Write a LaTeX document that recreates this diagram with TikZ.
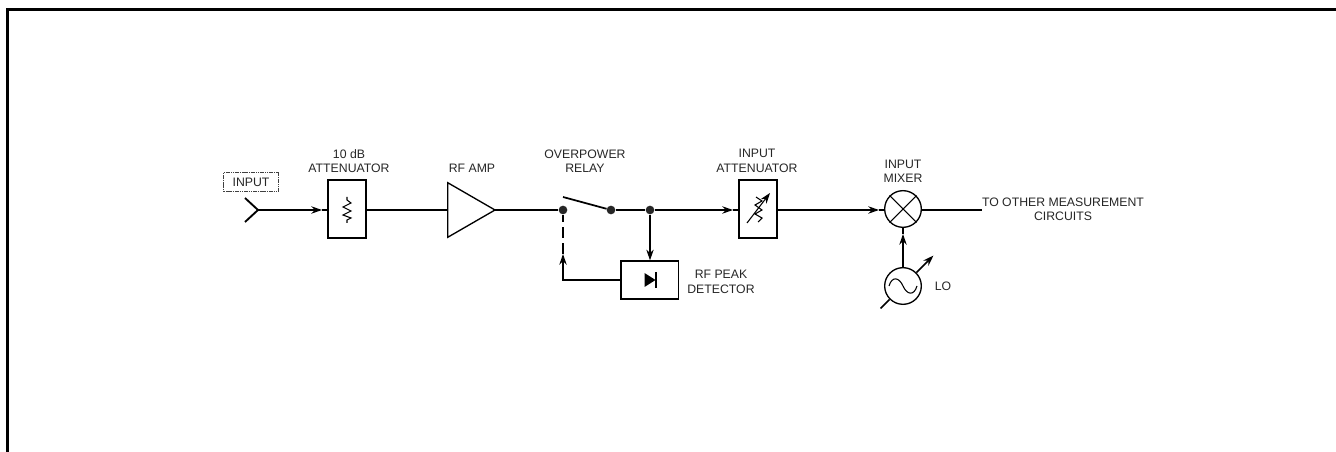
\documentclass[tikz,border=0pt]{standalone}
\usepackage{fontspec}
\setmainfont{Liberation Sans}
\usepackage{tikz}
\usetikzlibrary{calc,arrows.meta,shapes.geometric}

\begin{document}
\begin{tikzpicture}[
  x=0.75pt, y=-0.75pt,
  >={Stealth[length=8pt,width=5.5pt]},
  sig/.style={line width=2.2pt},
  feed/.style={line width=1.1pt},
  blockbox/.style={draw, line width=1pt, inner sep=0pt, minimum width=28.5pt, minimum height=43.5pt},
  jct/.style={circle, fill=black!85, inner sep=0pt, minimum size=6.5pt},
  roundel/.style={circle, draw, line width=1pt, inner sep=0pt, minimum size=27.5pt},
  sym/.style={line width=0.8pt},
  lab/.style={font=\fontsize{9.2pt}{10.8pt}\selectfont, align=center, text=black!85, inner sep=0pt},
]
\useasboundingbox (0,0) rectangle (1336,452);

% ------------------------------------------------------------------
% outer frame
% ------------------------------------------------------------------
\draw[line width=2.2pt] (7.5,452) -- (7.5,9.5) -- (1336,9.5);

% ------------------------------------------------------------------
% blocks and junctions
% ------------------------------------------------------------------
\node[draw=black!75, line width=1pt, dash pattern=on 1.2pt off 0.5pt, lab,
      minimum width=41pt, minimum height=14.5pt] (inputtag) at (251,182) {INPUT};
\coordinate (inputjoin) at (258,210);
\coordinate (inputup)   at (245,198);
\coordinate (inputdown) at (245,222);

\node[blockbox] (fixedatten) at (347,209) {};
\node[draw, isosceles triangle, isosceles triangle stretches, line width=1pt, inner sep=0pt,
      minimum width=41pt, minimum height=35.5pt, anchor=lower side] (rfamp) at (447,210) {};
\node[jct] (relayin)  at (563,210) {};
\node[jct] (relayout) at (611,210) {};
\node[jct] (tap)      at (650,210) {};
\coordinate (relayarm) at (563,197);
\node[blockbox] (varatten) at (758,209) {};
\node[roundel] (mixer) at (903,209) {};
\node[roundel] (lo)    at (903,286) {};
\node[blockbox, minimum width=43pt, minimum height=28.5pt] (peakdet) at (649.5,280) {};
\coordinate (outend) at (982,210);

% ------------------------------------------------------------------
% signal path
% ------------------------------------------------------------------
\draw[feed, line width=1.4pt] (inputup) -- (inputjoin) -- (inputdown);
\coordinate (arrowa) at (322,210);
\coordinate (arrowb) at (733,210);
\coordinate (arrowc) at (879,210);
\draw[sig, ->] (inputjoin) -- (arrowa);
\draw[feed] (arrowa) -- (fixedatten.west |- arrowa);
\draw[sig] (fixedatten.east |- rfamp.lower side) -- (rfamp.lower side);
\draw[sig] ($(rfamp.apex)+(-3,0)$) -- (relayin);
\draw[sig, line width=1.3pt] (relayarm) -- (relayout);
\draw[sig] (relayout) -- (tap);
\draw[sig, ->] (tap) -- (arrowb);
\draw[feed] (arrowb) -- (varatten.west |- arrowb);
\draw[sig, ->] (varatten.east |- arrowc) -- (arrowc);
\draw[feed] (arrowc) -- (mixer.west |- arrowc);
\draw[sig] (mixer.east |- outend) -- (outend);

% peak detector loop
\coordinate (dashend) at (563,254);
\draw[feed, ->] (tap) -- (tap |- peakdet.north);
\draw[feed, ->] (peakdet.west) -| (dashend);
\draw[feed, dashed, dash pattern=on 8pt off 4pt] (dashend) -- (relayin);

% local oscillator
\coordinate (loarrow) at (903,234);
\draw[feed, ->] (lo) -- (loarrow);
\draw[feed] (loarrow) -- (mixer);
\draw[feed, ->] (lo.45) -- ++(17,-17);
\draw[feed] (lo.225) -- ++(-9,9);

% ------------------------------------------------------------------
% symbols inside the blocks
% ------------------------------------------------------------------
\draw[sym] (347,197) -- (347,200) -- (351,203) -- (343,207) -- (351,211) -- (343,215)
   -- (351,218) -- (347,220) -- (347,223);
\draw[sym, ->] (747,223) -- (770,193);
\draw[sym] (756,197) -- (762,201) -- (755,205) -- (762,210) -- (755,214) -- (762,218) -- (758,222);
\fill (peakdet.center) ++(-5,-7) -- ++(0,14) -- ++(11,-7) -- cycle;
\draw[feed] (peakdet.center) ++(6.5,-8) -- ++(0,16);
\draw[sym] (mixer.45) -- (mixer.225);
\draw[sym] (mixer.135) -- (mixer.315);
\draw[sym] (889,286) .. controls (892,276) and (899,277) .. (903,286)
   .. controls (907,295) and (914,296) .. (917,286);

% ------------------------------------------------------------------
% labels
% ------------------------------------------------------------------
\node[lab] (fixedlab)  at (349,161) {10 dB\\ATTENUATOR};
\node[lab] (amplab)    at (472,168) {RF AMP};
\node[lab] (relaylab)  at (585,161) {OVERPOWER\\RELAY};
\node[lab] (varlab)    at (757,161) {INPUT\\ATTENUATOR};
\node[lab] (mixerlab)  at (903,171) {INPUT\\MIXER};
\node[lab] (outlab)    at (1063,209) {TO OTHER MEASUREMENT\\CIRCUITS};
\node[lab] (peaklab)   at (721,282) {RF PEAK\\DETECTOR};
\node[lab] (lolab)     at (943,286) {LO};
\end{tikzpicture}
\end{document}
